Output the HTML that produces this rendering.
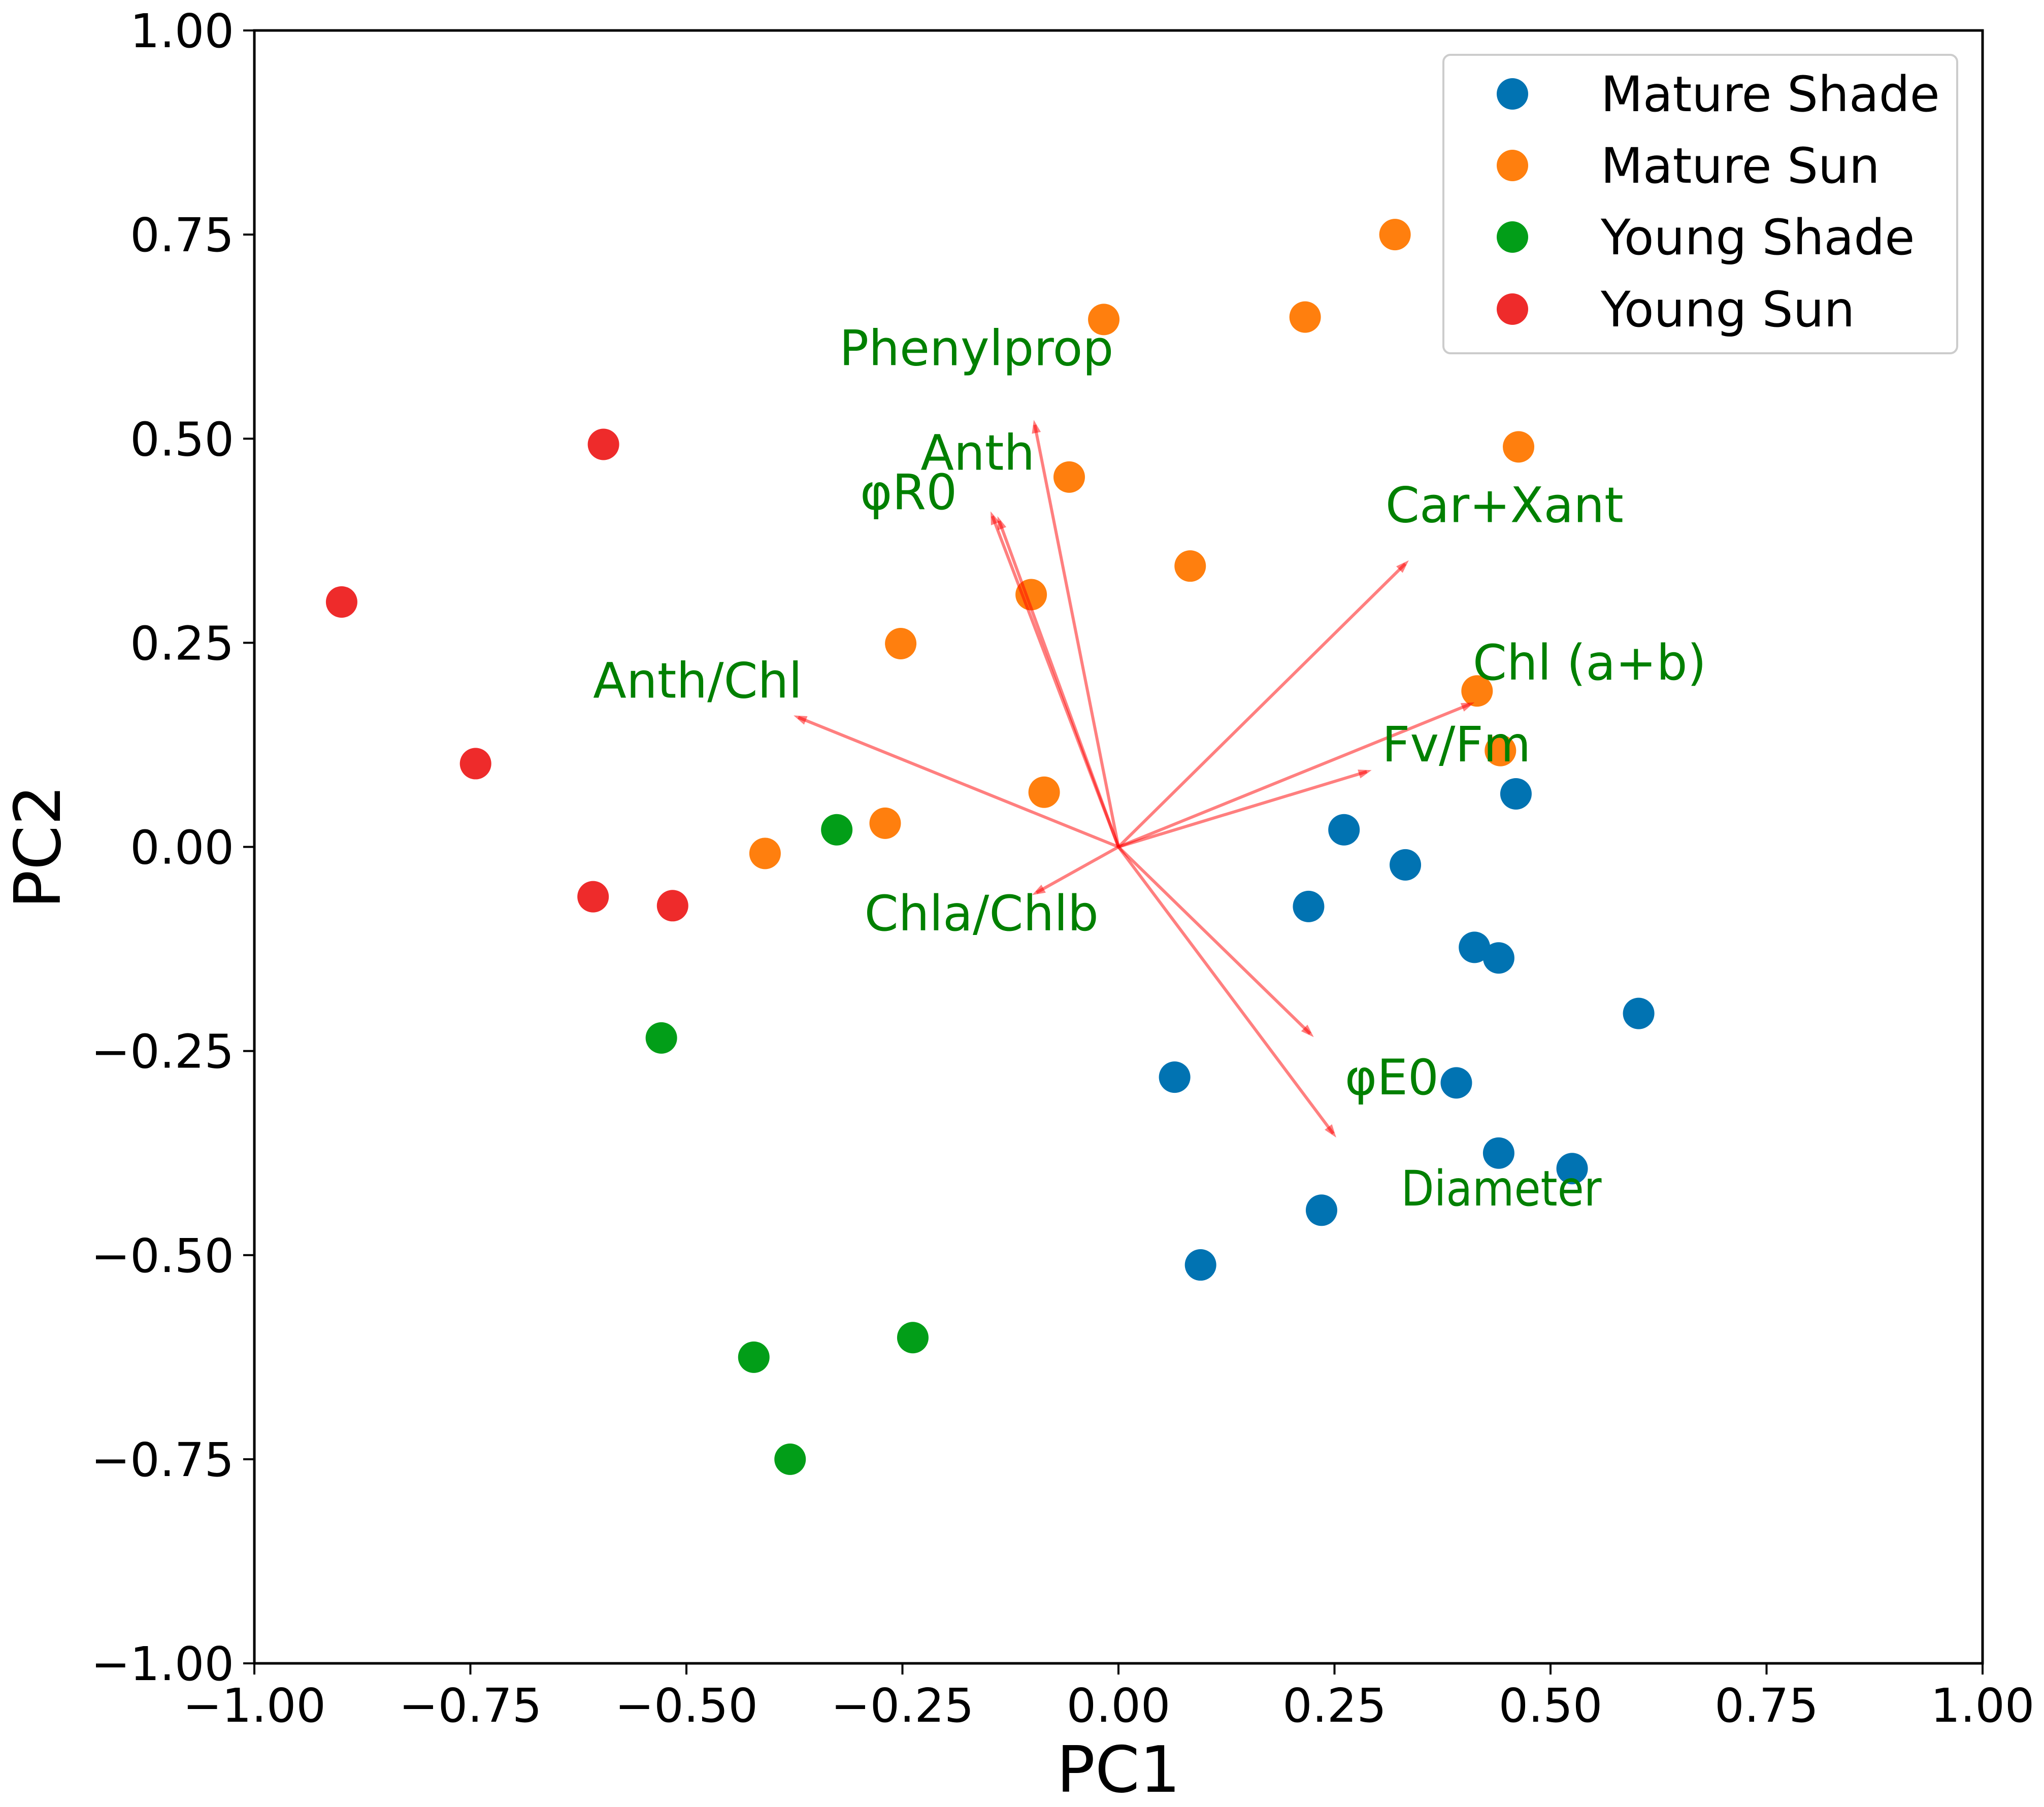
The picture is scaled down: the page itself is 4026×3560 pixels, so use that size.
<!DOCTYPE html>
<html><head><meta charset="utf-8"><style>
html,body{margin:0;padding:0;background:#fff}
svg{display:block}
text{font-family:"DejaVu Sans","Liberation Sans",sans-serif}
</style></head><body>
<svg id="chart" width="4026" height="3560" viewBox="0 0 4026 3560" xmlns="http://www.w3.org/2000/svg">
<rect x="0" y="0" width="4026" height="3560" fill="#fff"/>
<g id="marks"></g>
<rect x="501" y="60" width="3404" height="3217" fill="none" stroke="#000" stroke-width="5"/>
<g id="axes"></g>
<text x="2203" y="3530" font-size="126" text-anchor="middle">PC1</text>
<text transform="translate(118,1668) rotate(-90)" font-size="126" text-anchor="middle">PC2</text>
<g>
<rect x="2843" y="108" width="1012" height="588" rx="14" fill="#fff" fill-opacity="0.8" stroke="#ccc" stroke-width="4"/>
<g id="legend-items"></g>
</g>
</svg>
<script>
const groupNames = ["Mature Shade","Mature Sun","Young Shade","Young Sun"];
const groupColors = ["#0173b2","#ff7f0e","#029e18","#ee2b2b"];
const matureShadeX = [0.46,0.261,0.332,0.220,0.412,0.440,0.602,0.065,0.391,0.440,0.525,0.235,0.095];
const matureShadeY = [0.065,0.021,-0.022,-0.073,-0.123,-0.136,-0.204,-0.282,-0.289,-0.375,-0.394,-0.445,-0.512];
const matureSunX = [0.320,-0.017,0.216,0.463,-0.057,0.083,-0.101,-0.252,0.415,0.442,-0.086,-0.270,-0.409];
const matureSunY = [0.750,0.646,0.649,0.490,0.453,0.344,0.309,0.249,0.191,0.118,0.067,0.029,-0.008];
const youngShadeX = [-0.326,-0.529,-0.238,-0.422,-0.380];
const youngShadeY = [0.021,-0.234,-0.601,-0.625,-0.750];
const youngSunX = [-0.596,-0.899,-0.744,-0.608,-0.516];
const youngSunY = [0.493,0.300,0.102,-0.061,-0.072];
const loadingNames = ["Phenylprop","Anth","φR0","Car+Xant","Chl (a+b)","Fv/Fm","Anth/Chl","Chla/Chlb","φE0","Diameter"];
const loadingX = [-0.098,-0.148,-0.140,0.336,0.412,0.293,-0.376,-0.100,0.226,0.252];
const loadingY = [0.523,0.411,0.405,0.351,0.177,0.094,0.161,-0.059,-0.233,-0.356];
const labelX = [-0.323,-0.229,-0.299,0.309,0.410,0.305,-0.608,-0.294,0.262,0.327];
const labelY = [0.611,0.483,0.435,0.419,0.226,0.126,0.204,-0.081,-0.282,-0.418];
const tickValues = [-1,-0.75,-0.5,-0.25,0,0.25,0.5,0.75,1];
const tickLabels = ["\u22121.00","\u22120.75","\u22120.50","\u22120.25","0.00","0.25","0.50","0.75","1.00"];

const L=501,R=3905,T=60,B=3277;
const sx=v=>L+(v+1)/2*(R-L);
const sy=v=>B-(v+1)/2*(B-T);
const NS="http://www.w3.org/2000/svg";
function mk(tag,attrs,parent){const e=document.createElementNS(NS,tag);for(const k in attrs)e.setAttribute(k,attrs[k]);parent.appendChild(e);return e;}
const marks=document.getElementById('marks');
const axes=document.getElementById('axes');

tickValues.forEach((v,i)=>{
  const tx=mk('line',{x1:sx(v),x2:sx(v),y1:B,y2:B+22,stroke:'#000','stroke-width':4},axes);
  
  
  const lx=mk('text',{x:sx(v),y:B+115,'font-size':92,'text-anchor':'middle'},axes);
  lx.textContent=tickLabels[i];
  
  
  const ty=mk('line',{x1:L-22,x2:L,y1:sy(v),y2:sy(v),stroke:'#000','stroke-width':4},axes);
  
  
  const ly=mk('text',{x:L-40,y:sy(v)+33,'font-size':92,'text-anchor':'end'},axes);
  ly.textContent=tickLabels[i];
  
  
});

const gx=[matureShadeX,matureSunX,youngShadeX,youngSunX];
const gy=[matureShadeY,matureSunY,youngShadeY,youngSunY];
gx.forEach((xs,g)=>{
  xs.forEach((x,i)=>{
    const c=mk('circle',{cx:sx(x),cy:sy(gy[g][i]),r:31,fill:groupColors[g]},marks);
    
    
  });
});

loadingX.forEach((x,i)=>{
  const x0=sx(0),y0=sy(0),x1=sx(x),y1=sy(loadingY[i]);
  const dx=x1-x0,dy=y1-y0,len=Math.hypot(dx,dy),ux=dx/len,uy=dy/len;
  const g=mk('g',{},marks);
  
  
  mk('line',{x1:x0,y1:y0,x2:x1-ux*10,y2:y1-uy*10,stroke:'rgba(255,0,0,0.5)','stroke-width':6},g);
  const hl=26,hw=9;
  mk('polygon',{points:`${x1},${y1} ${x1-ux*hl-uy*hw},${y1-uy*hl+ux*hw} ${x1-ux*hl+uy*hw},${y1-uy*hl-ux*hw}`,fill:'rgba(255,0,0,0.5)'},g);
});
loadingNames.forEach((n,i)=>{
  const t=mk('text',{x:sx(labelX[i]),y:sy(labelY[i])+34,'font-size':96,fill:'#008000'},marks);
  if(n==='Diameter'){t.setAttribute('textLength',395);t.setAttribute('lengthAdjust','spacingAndGlyphs');}
  t.textContent=n;
  
  
});

const li=document.getElementById('legend-items');
const legendY=[185,326,467,609];
groupNames.forEach((n,i)=>{
  const c=mk('circle',{cx:2979,cy:legendY[i],r:31,fill:groupColors[i]},li);
  
  
  const t=mk('text',{x:3153,y:legendY[i]+34,'font-size':96},li);
  t.textContent=n;
  
  
});
</script>
</body></html>
